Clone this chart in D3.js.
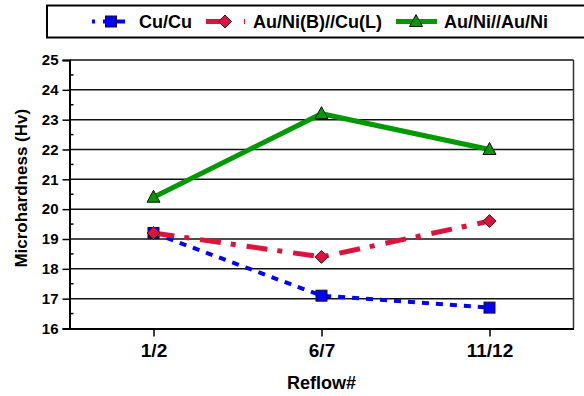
<!DOCTYPE html>
<html>
<head>
<meta charset="utf-8">
<script src="https://cdn.jsdelivr.net/npm/d3@7"></script>
<style>
  body { margin: 0; background: #fff; }
  svg { display: block; font-family: "Liberation Sans", Arial, sans-serif; font-weight: bold; }
</style>
</head>
<body>
<svg id="chart" width="584" height="396"></svg>
<script>
// values
const reflows = ["1/2", "6/7", "11/12"]
const cuCu = [19.2, 17.1, 16.7]
const auNiBCuL = [19.2, 18.4, 19.6]
const auNiAuNi = [20.4, 23.2, 22.0]
const yTicks = [16, 17, 18, 19, 20, 21, 22, 23, 24, 25]
const seriesNames = ["Cu/Cu", "Au/Ni(B)//Cu(L)", "Au/Ni//Au/Ni"]

const width = 584, height = 396
const m = {left: 69.5, right: 573.5, top: 60, bottom: 328.5}

const svg = d3.select("#chart")

const x = d3.scalePoint().domain(reflows).range([m.left, m.right]).padding(0.5)
const y = d3.scaleLinear().domain([16, 25]).range([m.bottom, m.top])

const series = [
  {name: seriesNames[0], values: cuCu, color: "#0000ff", width: 4, dash: "7,7", marker: "square"},
  {name: seriesNames[1], values: auNiBCuL, color: "#dc143c", width: 5, dash: "21,10,5,11", marker: "diamond"},
  {name: seriesNames[2], values: auNiAuNi, color: "#009900", width: 5, dash: null, marker: "triangle"}
]

// grid
svg.append("g")
  .selectAll("line")
  .data(yTicks.filter(d => d > 16))
  .enter().append("line")
  .attr("x1", m.left).attr("x2", m.right)
  .attr("y1", d => y(d)).attr("y2", d => y(d))
  .attr("stroke", "#111").attr("stroke-width", 1.5)

// right border
svg.append("line")
  .attr("x1", m.right).attr("x2", m.right)
  .attr("y1", m.top).attr("y2", m.bottom)
  .attr("stroke", "#333").attr("stroke-width", 1.5)

// y axis
const yAxis = svg.append("g")
  .attr("transform", `translate(${m.left},0)`)
  .call(d3.axisLeft(y).tickValues(yTicks).tickSize(7).tickPadding(4).tickFormat(d3.format("d")))
yAxis.select(".domain").attr("stroke", "#000").attr("stroke-width", 2)
yAxis.selectAll(".tick line").attr("stroke", "#000").attr("stroke-width", 1.5)
yAxis.selectAll("text").attr("font-size", 15).attr("font-weight", "bold").attr("fill", "#000")
  .attr("font-family", "Liberation Sans, Arial, sans-serif")

// minor ticks inside
svg.append("g")
  .selectAll("line")
  .data(d3.range(16.5, 25, 1))
  .enter().append("line")
  .attr("x1", m.left).attr("x2", m.left + 4)
  .attr("y1", d => y(d)).attr("y2", d => y(d))
  .attr("stroke", "#000").attr("stroke-width", 1.5)

// x axis
const xAxis = svg.append("g")
  .attr("transform", `translate(0,${m.bottom})`)
  .call(d3.axisBottom(x).tickSize(8).tickPadding(7).tickSizeOuter(0))
xAxis.select(".domain").attr("stroke", "#000").attr("stroke-width", 2)
xAxis.selectAll(".tick line").attr("stroke", "#000").attr("stroke-width", 1.5)
xAxis.selectAll("text").attr("font-size", 19).attr("font-weight", "bold").attr("fill", "#000")
  .attr("font-family", "Liberation Sans, Arial, sans-serif")

// axis titles
svg.append("text")
  .attr("x", (m.left + m.right) / 2).attr("y", 389)
  .attr("text-anchor", "middle").attr("font-size", 18)
  .text("Reflow#")

svg.append("text")
  .attr("transform", `translate(27,${(m.top + m.bottom) / 2 - 6}) rotate(-90)`)
  .attr("text-anchor", "middle").attr("font-size", 17)
  .text("Microhardness (Hv)")

function drawMarker(g, type, cx, cy, color) {
  if (type === "square") {
    g.append("rect").attr("x", cx - 5.5).attr("y", cy - 5.5).attr("width", 11).attr("height", 11)
      .attr("fill", color).attr("stroke", "#112").attr("stroke-width", 1)
  } else if (type === "diamond") {
    g.append("path").attr("d", `M${cx},${cy - 6.5}L${cx + 6.5},${cy}L${cx},${cy + 6.5}L${cx - 6.5},${cy}Z`)
      .attr("fill", color).attr("stroke", "#222").attr("stroke-width", 1)
  } else {
    g.append("path").attr("d", `M${cx},${cy - 7}L${cx + 6.5},${cy + 5}L${cx - 6.5},${cy + 5}Z`)
      .attr("fill", color).attr("stroke", "#111").attr("stroke-width", 1)
  }
}

const line = d3.line().x((d, i) => x(reflows[i])).y(d => y(d))

series.forEach(s => {
  const g = svg.append("g")
  g.append("path")
    .datum(s.values)
    .attr("d", line)
    .attr("fill", "none")
    .attr("stroke", s.color)
    .attr("stroke-width", s.width)
    .attr("stroke-dasharray", s.dash)
  s.values.forEach((v, i) => drawMarker(g, s.marker, x(reflows[i]), y(v), s.color))
})

// legend
const legend = svg.append("g")
legend.append("rect")
  .attr("x", 47).attr("y", 5.5).attr("width", 600).attr("height", 32)
  .attr("fill", "#fff").attr("stroke", "#000").attr("stroke-width", 2)

const legendItems = [
  {lx1: 92, lx2: 125, mx: 111, tx: 139},
  {lx1: 206, lx2: 245, mx: 225, tx: 253},
  {lx1: 396, lx2: 437, mx: 416, tx: 444}
]
const ly = 21.5
series.forEach((s, i) => {
  const it = legendItems[i]
  legend.append("line")
    .attr("x1", it.lx1).attr("x2", it.lx2).attr("y1", ly).attr("y2", ly)
    .attr("stroke", s.color).attr("stroke-width", s.width)
    .attr("stroke-dasharray", i === 0 ? "3,8,30,8" : (i === 1 ? "21,17,3,10" : null))
  drawMarker(legend, s.marker, it.mx, ly, s.color)
  legend.append("text")
    .attr("x", it.tx).attr("y", 28.3)
    .attr("font-size", 18)
    .text(s.name)
})
</script>
</body>
</html>
